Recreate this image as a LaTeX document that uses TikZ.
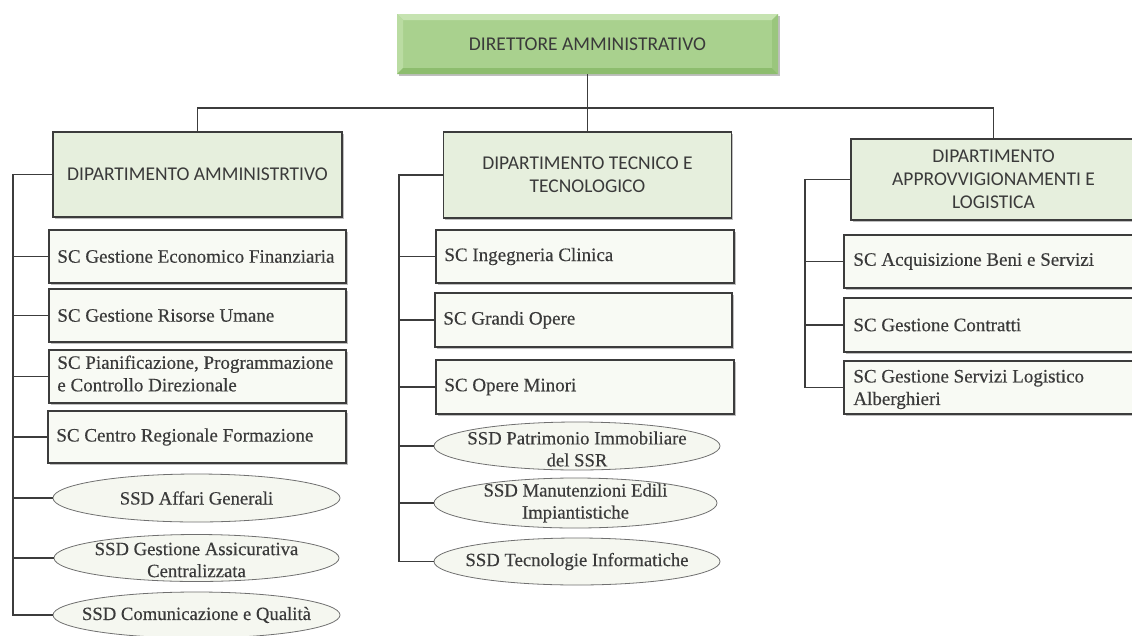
\documentclass[tikz,border=0pt]{standalone}
\usepackage{fontspec}
\setmainfont{Liberation Serif}[FakeBold=0.35]
\newfontfamily\carl{Carlito}
\usetikzlibrary{shapes.geometric,shadows}
\definecolor{txt}{HTML}{3A3A3A}
\definecolor{linec}{HTML}{3C3C3C}
\definecolor{deptfill}{HTML}{E6EFDD}
\definecolor{scfill}{HTML}{F8FAF4}
\definecolor{ssdfill}{HTML}{F5F7F0}
\definecolor{ssdline}{HTML}{707070}
\definecolor{topfill}{HTML}{A9D18E}
\definecolor{toplight}{HTML}{C6E3B1}
\definecolor{topleft}{HTML}{BADCA2}
\definecolor{topdark}{HTML}{8DBD6E}
\definecolor{topright}{HTML}{9AC67D}
\begin{document}
\begin{tikzpicture}[x=1pt,y=-1pt,
  conn/.style={draw=linec,line width=1.6pt},
  shad/.style={drop shadow={shadow xshift=1.5pt,shadow yshift=-1.5pt,fill=black,opacity=0.25}},
  topbox/.style={shad,fill=topfill,text=txt,font=\carl\fontsize{19.5}{23}\selectfont,inner sep=0pt,
    path picture={
      \fill[toplight] (path picture bounding box.north west) -- (path picture bounding box.north east) -- ++(-6pt,-6pt) -- ([shift={(6pt,-6pt)}]path picture bounding box.north west) -- cycle;
      \fill[topleft] (path picture bounding box.north west) -- (path picture bounding box.south west) -- ++(6pt,6pt) -- ([shift={(6pt,-6pt)}]path picture bounding box.north west) -- cycle;
      \fill[topdark] (path picture bounding box.south west) -- (path picture bounding box.south east) -- ++(-6pt,6pt) -- ([shift={(6pt,6pt)}]path picture bounding box.south west) -- cycle;
      \fill[topright] (path picture bounding box.north east) -- (path picture bounding box.south east) -- ++(-6pt,6pt) -- ([shift={(-6pt,-6pt)}]path picture bounding box.north east) -- cycle;
    }},
  dept/.style={shad,draw=linec,line width=1.6pt,fill=deptfill,text=txt,font=\carl\fontsize{19.5}{23}\selectfont,align=center,inner sep=0pt},
  scbox/.style={shad,draw=linec,line width=1.6pt,fill=scfill,inner sep=0pt},
  sctext/.style={anchor=west,xshift=9pt,text=txt,font=\fontsize{19}{22.5}\selectfont,align=left,inner sep=0pt},
  ssd/.style={ellipse,draw=ssdline,line width=0.8pt,fill=ssdfill,inner sep=0pt},
  ssdtext/.style={text=txt,font=\fontsize{18.7}{22}\selectfont,align=center,inner sep=0pt}
]
\useasboundingbox (0,0) rectangle (1132,635);
\clip (0,0) rectangle (1132,635);
\fill[white] (0,0) rectangle (1132,635);

% top
\node[topbox,minimum width=381pt,minimum height=60pt] (dir) at (587.5,44) {DIRETTORE AMMINISTRATIVO};

% departments
\node[dept,minimum width=289pt,minimum height=85pt] (ld) at (197.5,174.5) {DIPARTIMENTO AMMINISTRTIVO};
\node[dept,minimum width=288pt,minimum height=86pt] (md) at (587.5,175) {DIPARTIMENTO TECNICO E\\TECNOLOGICO};
\node[dept,minimum width=285pt,minimum height=81pt] (rd) at (993.5,179.5) {DIPARTIMENTO\\APPROVVIGIONAMENTI E\\LOGISTICA};

% left column
\node[scbox,minimum width=297pt,minimum height=53pt,label={[sctext]west:SC Gestione Economico Finanziaria}] (l1) at (197.5,256.5) {};
\node[scbox,minimum width=297pt,minimum height=53pt,label={[sctext]west:SC Gestione Risorse Umane}] (l2) at (197.5,315.5) {};
\node[scbox,minimum width=297pt,minimum height=53pt,label={[sctext,yshift=3pt]west:{SC Pianificazione, Programmazione\\e Controllo Direzionale}}] (l3) at (197.5,376.5) {};
\node[scbox,minimum width=298pt,minimum height=52pt,label={[sctext]west:SC Centro Regionale Formazione}] (l4) at (197,437) {};
\node[ssd,minimum width=287pt,minimum height=48pt,label={[ssdtext]center:SSD Affari Generali}] (l5) at (196.5,498) {};
\node[ssd,minimum width=285pt,minimum height=47pt,label={[ssdtext,yshift=-2pt]center:{SSD Gestione Assicurativa\\Centralizzata}}] (l6) at (196.5,558) {};
\node[ssd,minimum width=287pt,minimum height=46pt,label={[ssdtext]center:SSD Comunicazione e Qualità}] (l7) at (196.5,615) {};

% middle column
\node[scbox,minimum width=298pt,minimum height=53pt,label={[sctext]west:SC Ingegneria Clinica}] (m1) at (585,256.5) {};
\node[scbox,minimum width=297pt,minimum height=54pt,label={[sctext]west:SC Grandi Opere}] (m2) at (583.5,320) {};
\node[scbox,minimum width=298pt,minimum height=54pt,label={[sctext]west:SC Opere Minori}] (m3) at (585,387) {};
\node[ssd,minimum width=286pt,minimum height=48pt,label={[ssdtext,yshift=-3pt]center:{SSD Patrimonio Immobiliare\\del SSR}}] (m4) at (577,446) {};
\node[ssd,minimum width=283pt,minimum height=50pt,label={[ssdtext]center:{SSD Manutenzioni Edili\\Impiantistiche}}] (m5) at (575.5,503) {};
\node[ssd,minimum width=286pt,minimum height=47pt,label={[ssdtext]center:SSD Tecnologie Informatiche}] (m6) at (577,561.5) {};

% right column
\node[scbox,minimum width=296pt,minimum height=53pt,label={[sctext,xshift=1pt]west:SC Acquisizione Beni e Servizi}] (r1) at (992,261.5) {};
\node[scbox,minimum width=296pt,minimum height=54pt,label={[sctext,xshift=1pt]west:SC Gestione Contratti}] (r2) at (992,325) {};
\node[scbox,minimum width=296pt,minimum height=53pt,label={[sctext,xshift=1pt,yshift=-2pt]west:{SC Gestione Servizi Logistico\\Alberghieri}}] (r3) at (992,387.5) {};

% connectors
\coordinate (bus) at (587.5,108);
\draw[conn] (dir.south) -- (md.north);
\draw[conn] (ld.north) |- (rd.north |- bus) -- (rd.north);

\coordinate (lbx) at (13,0);
\coordinate (mbx) at (399,0);
\coordinate (rbx) at (805,0);
\draw[conn] (ld.west) -| (lbx |- l7.west) -- (l7.west);
\foreach \n in {l1,l2,l3,l4,l5,l6} \draw[conn] (lbx |- \n.west) -- (\n.west);
\draw[conn] (md.west) -| (mbx |- m6.west) -- (m6.west);
\foreach \n in {m1,m2,m3,m4,m5} \draw[conn] (mbx |- \n.west) -- (\n.west);
\draw[conn] (rd.west) -| (rbx |- r3.west) -- (r3.west);
\foreach \n in {r1,r2} \draw[conn] (rbx |- \n.west) -- (\n.west);
\end{tikzpicture}
\end{document}
